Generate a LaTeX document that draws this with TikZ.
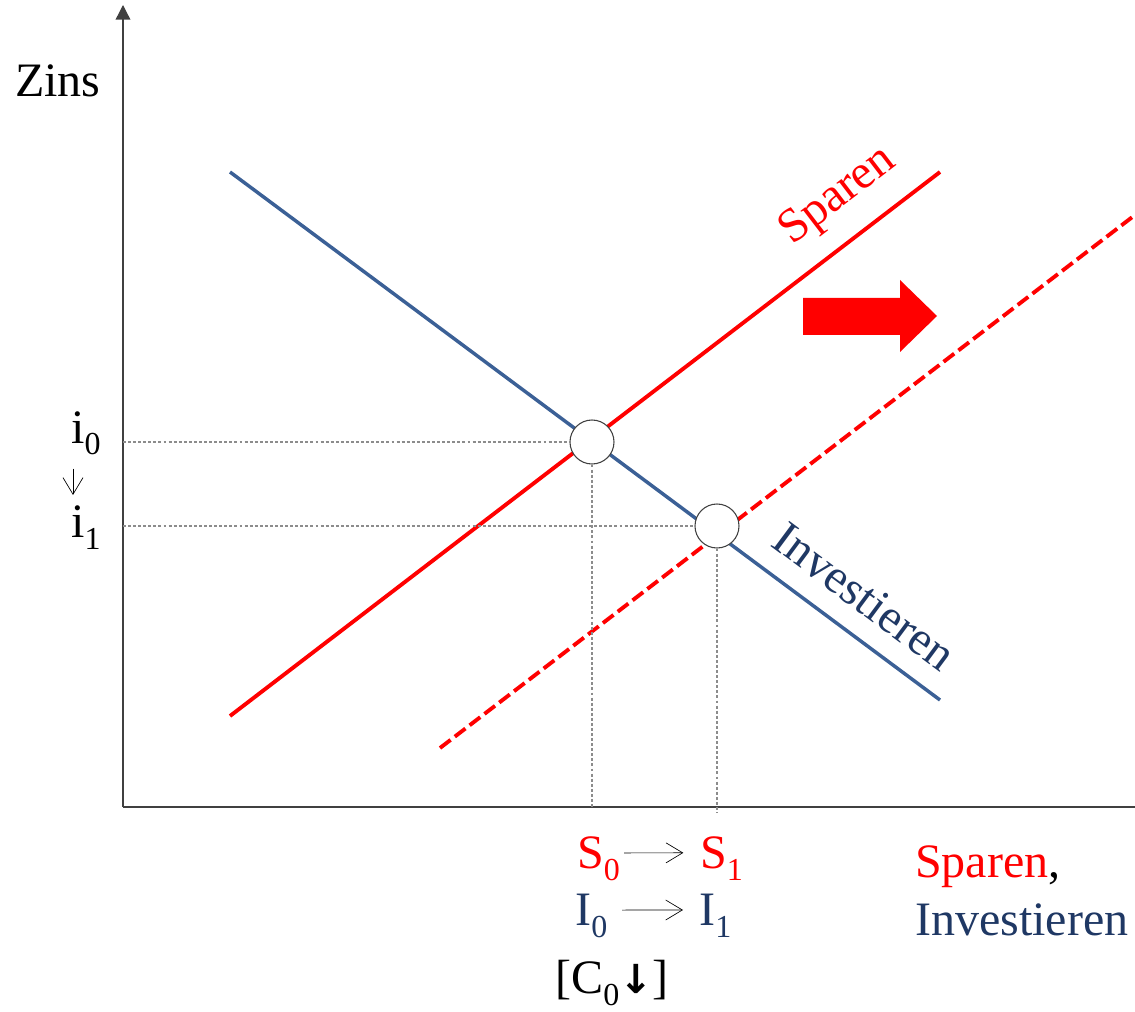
\documentclass[tikz,border=0pt]{standalone}
\usepackage{fontspec}
\setmainfont{Liberation Serif}
\newfontfamily\arrowfont{DejaVu Sans}
\usetikzlibrary{arrows.meta}
\definecolor{myred}{RGB}{255,0,0}
\definecolor{lineblue}{RGB}{59,96,150}
\definecolor{navy}{RGB}{31,56,100}
\definecolor{axisgray}{RGB}{64,64,64}
\definecolor{guidegray}{RGB}{140,140,140}
\newcommand{\lowsub}[1]{\raisebox{-9pt}{\fontsize{24}{24}\selectfont #1}}
\begin{document}
\begin{tikzpicture}[x=0.75pt,y=-0.75pt,
  every node/.style={inner sep=0pt, font=\fontsize{36}{40}\selectfont},
  axisline/.style={draw=axisgray, line width=1pt},
  guide/.style={draw=guidegray, line width=0.8pt, dash pattern=on 2.2pt off 1.6pt},
  redcurve/.style={draw=myred, line width=2.9pt},
  bluecurve/.style={draw=lineblue, line width=2.6pt},
  eqpoint/.style={circle, draw=axisgray, line width=0.8pt, fill=white, minimum size=33pt},
  thinarr/.style={draw=black, line width=0.5pt, -{Straight Barb[length=12.5pt,width=15pt,line width=0.5pt]}},
]
\useasboundingbox (0,0) rectangle (1135,1012);

% axes
\coordinate (O) at (123,807);
\coordinate (ytop) at (123,5);
\coordinate (xend) at (1135,807);
\draw[axisline] (O) -- (xend);
\draw[axisline, -{Triangle[length=11pt,width=11pt]}] (O) -- (ytop);

% curves
\draw[bluecurve] (230,172) -- (940,700);
\draw[redcurve] (230,716) -- (940,172);
\draw[redcurve, dash pattern=on 10pt off 4pt] (440,748) -- (1135,215);

% equilibrium points
\node[eqpoint] (e0) at (592,442) {};
\node[eqpoint] (e1) at (717,526) {};

% guide lines
\draw[guide] (O |- e0) -- (e0.west);
\draw[guide] (O |- e1) -- (e1.west);
\draw[guide] (e0.south) -- (e0 |- O);
\draw[guide] (e1.south) -- ([yshift=-4pt]e1 |- O);

% shift arrow
\fill[myred] (803,298) -- (900,298) -- (900,280) -- (937,316) -- (900,352) -- (900,335) -- (803,335) -- cycle;

% curve labels
\node[anchor=base, rotate=37.5, text=myred] (lsparen) at (845,205) {Sparen};
\node[anchor=base, rotate=-36.6, text=navy] (linvest) at (855,609) {Investieren};

% axis labels
\node[anchor=base west] (zins) at (15,97) {Zins};
\node[anchor=base west] (xlab1) at (915,877) {\textcolor{myred}{Sparen},};
\node[anchor=base west, text=navy] (xlab2) at (915,935) {Investieren};

% interest rates
\node[anchor=base west] (i0) at (71,443) {i\lowsub{0}};
\node[anchor=base west] (i1) at (71,537) {i\lowsub{1}};
\draw[thinarr] ([shift={(2,13)}]i0.south west) -- ([shift={(2,-10)}]i1.north west);

% quantities
\node[anchor=base west, text=myred] (s0) at (577,868) {S\lowsub{0}};
\node[anchor=base west, text=myred] (s1) at (700,868) {S\lowsub{1}};
\node[anchor=base west, text=navy] (ii0) at (575,925) {I\lowsub{0}};
\node[anchor=base west, text=navy] (ii1) at (699,925) {I\lowsub{1}};
\draw[thinarr, shorten <=3pt, shorten >=12.5pt] ([yshift=4pt]s0.east) -- ([yshift=4pt]s1.west);
\draw[thinarr, shorten <=11pt, shorten >=12pt] ([yshift=4pt]ii0.east) -- ([yshift=4pt]ii1.west);
\node[anchor=base west] (c0) at (555,993) {[C\lowsub{0}{\arrowfont\bfseries\fontsize{30}{30}\selectfont ↓}]};
\end{tikzpicture}
\end{document}
